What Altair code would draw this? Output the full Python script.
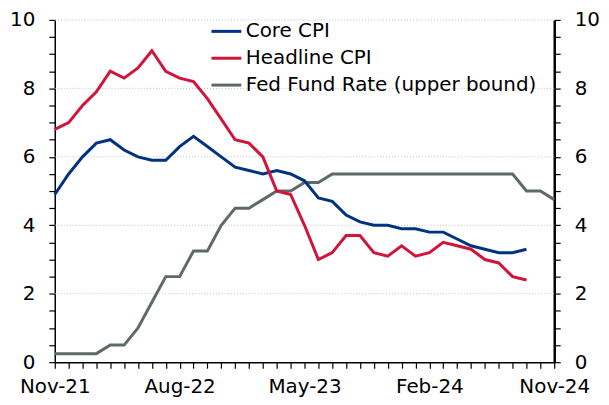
import altair as alt
import pandas as pd

months = ["Nov-21", "Dec-21", "Jan-22", "Feb-22", "Mar-22", "Apr-22", "May-22", "Jun-22",
          "Jul-22", "Aug-22", "Sep-22", "Oct-22", "Nov-22", "Dec-22", "Jan-23", "Feb-23",
          "Mar-23", "Apr-23", "May-23", "Jun-23", "Jul-23", "Aug-23", "Sep-23", "Oct-23",
          "Nov-23", "Dec-23", "Jan-24", "Feb-24", "Mar-24", "Apr-24", "May-24", "Jun-24",
          "Jul-24", "Aug-24", "Sep-24", "Oct-24", "Nov-24"]
tick_labels = ["Nov-21", "Aug-22", "May-23", "Feb-24", "Nov-24"]

core_cpi = [4.9, 5.5, 6.0, 6.4, 6.5, 6.2, 6.0, 5.9, 5.9, 6.3, 6.6, 6.3, 6.0, 5.7, 5.6, 5.5,
            5.6, 5.5, 5.3, 4.8, 4.7, 4.3, 4.1, 4.0, 4.0, 3.9, 3.9, 3.8, 3.8, 3.6, 3.4, 3.3,
            3.2, 3.2, 3.3]
headline_cpi = [6.8, 7.0, 7.5, 7.9, 8.5, 8.3, 8.6, 9.1, 8.5, 8.3, 8.2, 7.7, 7.1, 6.5, 6.4, 6.0,
                5.0, 4.9, 4.0, 3.0, 3.2, 3.7, 3.7, 3.2, 3.1, 3.4, 3.1, 3.2, 3.5, 3.4, 3.3, 3.0,
                2.9, 2.5, 2.4]
fed_rate = [0.25, 0.25, 0.25, 0.25, 0.5, 0.5, 1.0, 1.75, 2.5, 2.5, 3.25, 3.25, 4.0, 4.5, 4.5,
            4.75, 5.0, 5.0, 5.25, 5.25, 5.5, 5.5, 5.5, 5.5, 5.5, 5.5, 5.5, 5.5, 5.5, 5.5, 5.5,
            5.5, 5.5, 5.5, 5.0, 5.0, 4.75]
grid_values = [2, 4, 6, 8, 10]

series_names = ["Core CPI", "Headline CPI", "Fed Fund Rate (upper bound)"]
series_colors = ["#00337F", "#D2143A", "#5E6A69"]

rows = []
for name, vals in zip(series_names, [core_cpi, headline_cpi, fed_rate]):
    for i, v in enumerate(vals):
        rows.append({"idx": i, "month": months[i], "value": v, "series": name})
df = pd.DataFrame(rows)
cpi_df = df[df["series"] != series_names[2]]
fed_df = df[df["series"] == series_names[2]]
grid_df = pd.DataFrame({"g": grid_values})

FONT = "DejaVu Sans"
FS = 20

labels_js = "[" + ",".join("'" + t + "'" for t in tick_labels) + "]"
x_axis = alt.Axis(values=list(range(len(months))), labelExpr=f"datum.value % 9 == 0 ? {labels_js}[datum.value / 9] : ''",
                  grid=False, tickSize=6, labelPadding=8, domainColor="black", domainWidth=1.5,
                  tickColor="black", tickWidth=1.2, labelFont=FONT, labelFontSize=FS, labelColor="black",
                  labelFlush=False, labelOverlap=False, title=None)
x_enc = alt.X("idx:Q", scale=alt.Scale(domain=[0, len(months) - 1], nice=False, zero=False), axis=x_axis)

yvals = [i * 0.5 for i in range(21)]
y_scale = alt.Scale(domain=[0, 10], nice=False)


def y_axis(orient, dw):
    return alt.Axis(orient=orient, values=yvals,
                    labelExpr="datum.value % 2 == 0 ? format(datum.value, 'd') : ''",
                    grid=False, tickSize=6, labelPadding=14, domainColor="black", domainWidth=dw,
                    tickColor="black", tickWidth=1.2, labelFont=FONT, labelFontSize=FS,
                    labelColor="black", title=None, labelFlush=False, labelOverlap=False)


color = alt.Color("series:N", scale=alt.Scale(domain=series_names, range=series_colors),
                  sort=series_names,
                  legend=alt.Legend(orient="none", legendX=156, legendY=-5, title=None,
                                    symbolType="stroke", symbolSize=900, symbolStrokeWidth=3,
                                    labelFont=FONT, labelFontSize=FS, labelColor="black",
                                    labelOffset=3, rowPadding=-20, labelLimit=400))

grid = alt.Chart(grid_df).mark_rule(color="#c0c0c0", strokeDash=[1, 2], strokeWidth=1).encode(
    y=alt.Y("g:Q", scale=y_scale, axis=None))

fed = alt.Chart(fed_df).mark_line(strokeWidth=3).encode(
    x=x_enc, y=alt.Y("value:Q", scale=y_scale, axis=y_axis("right", 2.5)), color=color)

cpi = alt.Chart(cpi_df).mark_line(strokeWidth=3).encode(
    x=x_enc, y=alt.Y("value:Q", scale=y_scale, axis=y_axis("left", 1.5)), color=color,
    order=alt.Order("idx:Q"))

chart = alt.layer(grid, fed, cpi).resolve_scale(y="independent").properties(
    width=502, height=344,
    autosize=alt.AutoSizeParams(type="none"),
    padding={"left": 47, "top": 11, "right": 47, "bottom": 34},
).configure_view(stroke=None)

chart.save("out.html", embed_options={"renderer": "svg", "actions": False})
